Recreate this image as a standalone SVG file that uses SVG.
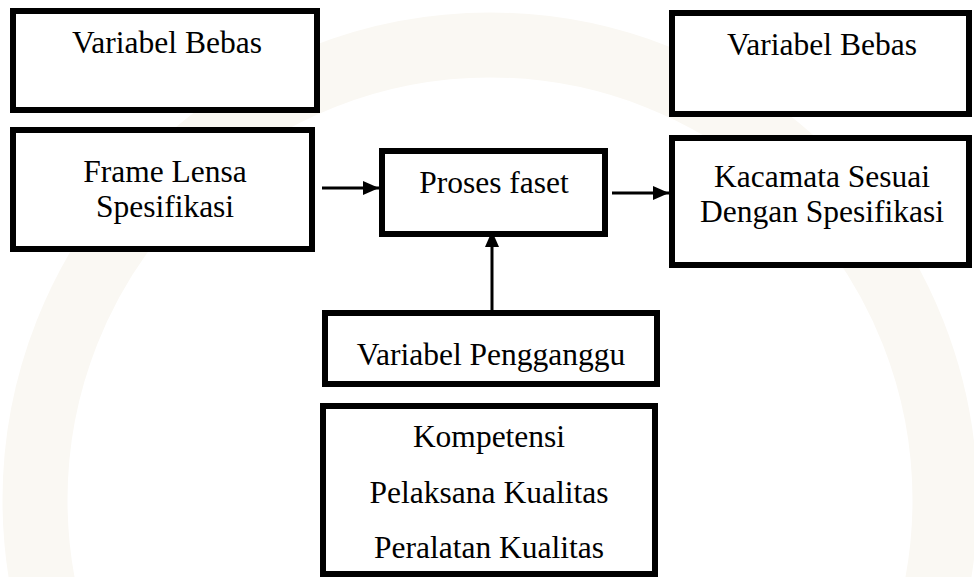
<svg xmlns="http://www.w3.org/2000/svg" width="974" height="577" viewBox="0 0 974 577">
<style>
.box{fill:#ffffff;stroke:#000000;stroke-width:6}
.lbl{font-family:"Liberation Serif","Times New Roman",serif;font-size:31.5px;fill:#000000;text-anchor:middle}
.conn{stroke:#000000;stroke-width:3;fill:none}
</style>
<defs>
<marker id="ah" viewBox="0 0 16 14" refX="16" refY="7" markerWidth="16" markerHeight="14" markerUnits="userSpaceOnUse" orient="auto">
<path d="M0,0 L16,7 L0,14 Z" fill="#000000"/>
</marker>
</defs>
<rect width="974" height="577" fill="#ffffff"/>
<circle cx="490" cy="500" r="455" fill="none" stroke="#faf8f3" stroke-width="65"/>
<g id="var-bebas-left">
<rect class="box" x="13" y="11" width="304" height="99"/>
<text class="lbl" x="167" y="53">Variabel Bebas</text>
</g>
<g id="frame-lensa">
<rect class="box" x="13" y="130" width="299" height="119"/>
<text class="lbl" x="165" y="182">Frame Lensa</text>
<text class="lbl" x="165" y="217">Spesifikasi</text>
</g>
<g id="proses-faset">
<rect class="box" x="382" y="151" width="223" height="83"/>
<text class="lbl" x="494" y="193">Proses faset</text>
</g>
<g id="var-bebas-right">
<rect class="box" x="672" y="13" width="297" height="101"/>
<text class="lbl" x="822" y="55">Variabel Bebas</text>
</g>
<g id="kacamata">
<rect class="box" x="672" y="138" width="297" height="127"/>
<text class="lbl" x="822" y="187">Kacamata Sesuai</text>
<text class="lbl" x="822" y="222">Dengan Spesifikasi</text>
</g>
<g id="var-pengganggu">
<rect class="box" x="325" y="313" width="332" height="71"/>
<text class="lbl" x="491" y="365">Variabel Pengganggu</text>
</g>
<g id="faktor">
<rect class="box" x="323" y="406" width="332" height="168"/>
<text class="lbl" x="489" y="447">Kompetensi</text>
<text class="lbl" x="489" y="503">Pelaksana Kualitas</text>
<text class="lbl" x="489" y="558">Peralatan Kualitas</text>
</g>
<g id="connectors">
<line class="conn" x1="322" y1="188" x2="379" y2="188" marker-end="url(#ah)"/>
<line class="conn" x1="612" y1="193" x2="669" y2="193" marker-end="url(#ah)"/>
<line class="conn" x1="492" y1="310" x2="492" y2="231" marker-end="url(#ah)"/>
</g>
</svg>
